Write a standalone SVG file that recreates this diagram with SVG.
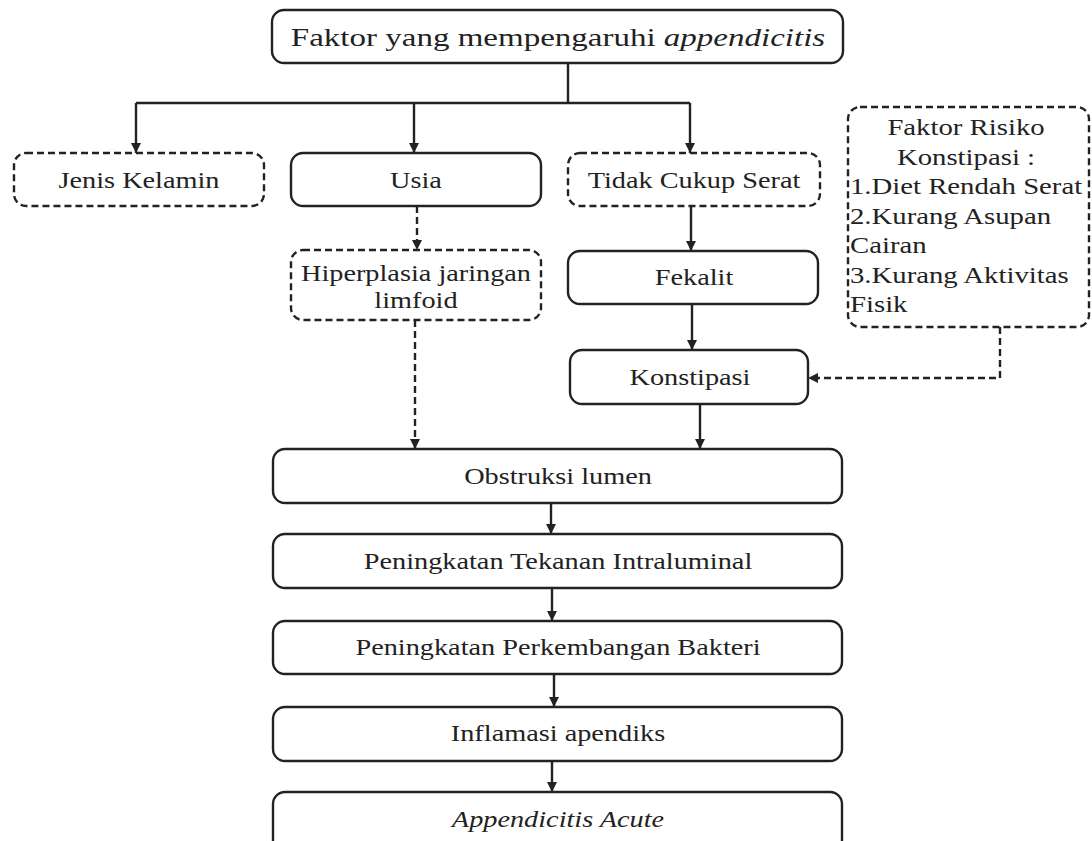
<svg xmlns="http://www.w3.org/2000/svg" width="1092" height="841" viewBox="0 0 1092 841">
<defs>
<marker id="ah" markerUnits="userSpaceOnUse" markerWidth="10" markerHeight="10" viewBox="0 0 10 10" refX="10" refY="5" orient="auto">
<path d="M0,0 L10,5 L0,10 z" fill="#222"/>
</marker>
</defs>
<style>
.box{fill:#fff;stroke:#222;stroke-width:2.4}
.dash{stroke-dasharray:7 4}
.t{font-family:"Liberation Serif","Times New Roman",serif;font-size:23px;fill:#222}
.c{text-anchor:middle}
.ln{fill:none;stroke:#222;stroke-width:2.4}
.ar{marker-end:url(#ah)}
</style>
<rect width="1092" height="841" fill="#fff"/>
<g id="connectors">
<path class="ln" d="M568,63 V103 M136,103 H690"/>
<path class="ln ar" d="M136,103 V153"/>
<path class="ln ar" d="M414,103 V153"/>
<path class="ln ar" d="M690,103 V153"/>
<path class="ln ar dash" d="M417,206 V250"/>
<path class="ln ar" d="M691,206 V251"/>
<path class="ln ar" d="M692,304 V350"/>
<path class="ln ar dash" d="M1000,327 V378 H808"/>
<path class="ln ar dash" d="M415,320 V449"/>
<path class="ln ar" d="M700,404 V449"/>
<path class="ln ar" d="M551,503 V534"/>
<path class="ln ar" d="M552,588 V621"/>
<path class="ln ar" d="M554,674 V707"/>
<path class="ln ar" d="M552,761 V792"/>
</g>
<g id="n-title">
<rect class="box" x="272" y="10" width="571" height="53" rx="12"/>
<text class="t c" font-family="Liberation Serif, serif" transform="translate(558,46) scale(1.27,1)" style="font-size:26px">Faktor yang mempengaruhi <tspan font-style="italic">appendicitis</tspan></text>
</g>
<g id="n-jenis">
<rect class="box dash" x="14" y="153" width="250" height="53" rx="12"/>
<text class="t c" transform="translate(139,188) scale(1.23,1)">Jenis Kelamin</text>
</g>
<g id="n-usia">
<rect class="box" x="291" y="153" width="250" height="53" rx="12"/>
<text class="t c" transform="translate(416,188) scale(1.23,1)">Usia</text>
</g>
<g id="n-serat">
<rect class="box dash" x="568" y="153" width="252" height="53" rx="12"/>
<text class="t c" transform="translate(694,188) scale(1.23,1)">Tidak Cukup Serat</text>
</g>
<g id="n-risiko">
<rect class="box dash" x="848" y="107" width="241" height="220" rx="12"/>
<text class="t c" transform="translate(966,135) scale(1.25,1)">Faktor Risiko</text>
<text class="t c" transform="translate(966,165) scale(1.25,1)">Konstipasi :</text>
<text class="t" transform="translate(850,194) scale(1.25,1)">1.Diet Rendah Serat</text>
<text class="t" transform="translate(850,224) scale(1.25,1)">2.Kurang Asupan</text>
<text class="t" transform="translate(850,253) scale(1.25,1)">Cairan</text>
<text class="t" transform="translate(850,283) scale(1.25,1)">3.Kurang Aktivitas</text>
<text class="t" transform="translate(850,312) scale(1.25,1)">Fisik</text>
</g>
<g id="n-hiperplasia">
<rect class="box dash" x="291" y="250" width="250" height="70" rx="12"/>
<text class="t c" transform="translate(416,281) scale(1.23,1)">Hiperplasia jaringan</text>
<text class="t c" transform="translate(416,308) scale(1.23,1)">limfoid</text>
</g>
<g id="n-fekalit">
<rect class="box" x="568" y="251" width="250" height="53" rx="12"/>
<text class="t c" transform="translate(694,285) scale(1.23,1)">Fekalit</text>
</g>
<g id="n-konstipasi">
<rect class="box" x="570" y="350" width="238" height="54" rx="12"/>
<text class="t c" transform="translate(690,385) scale(1.23,1)">Konstipasi</text>
</g>
<g id="n-obstruksi">
<rect class="box" x="273" y="449" width="569" height="54" rx="12"/>
<text class="t c" transform="translate(558,484) scale(1.23,1)">Obstruksi lumen</text>
</g>
<g id="n-tekanan">
<rect class="box" x="273" y="534" width="569" height="54" rx="12"/>
<text class="t c" transform="translate(558,569) scale(1.23,1)">Peningkatan Tekanan Intraluminal</text>
</g>
<g id="n-bakteri">
<rect class="box" x="273" y="621" width="569" height="53" rx="12"/>
<text class="t c" transform="translate(558,655) scale(1.23,1)">Peningkatan Perkembangan Bakteri</text>
</g>
<g id="n-inflamasi">
<rect class="box" x="273" y="707" width="569" height="54" rx="12"/>
<text class="t c" transform="translate(558,741) scale(1.23,1)">Inflamasi apendiks</text>
</g>
<g id="n-acute">
<rect class="box" x="273" y="792" width="569" height="60" rx="12"/>
<text class="t c" transform="translate(558,827) scale(1.23,1)" font-style="italic">Appendicitis Acute</text>
</g>
</svg>
